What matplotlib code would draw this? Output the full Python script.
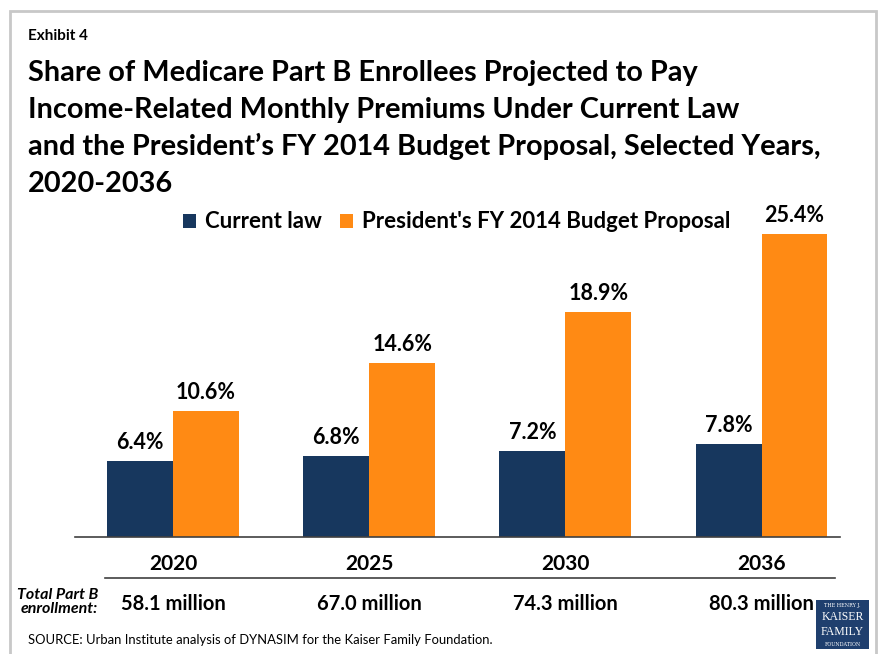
import matplotlib.pyplot as plt
import numpy as np
from matplotlib.patches import Rectangle

# Share of Part B enrollees paying income-related premiums (%)
years = ['2020', '2025', '2030', '2036']
current_law = [6.4, 6.8, 7.2, 7.8]
proposal = [10.6, 14.6, 18.9, 25.4]
enrollment = ['58.1 million', '67.0 million', '74.3 million', '80.3 million']

NAVY = '#17375E'
ORANGE = '#FF8A14'
FONT = 'Lato'

plt.rcParams['font.family'] = [FONT, 'DejaVu Sans']

fig = plt.figure(figsize=(8.8, 6.54), dpi=100)
W, H = 880, 654

def fx(px):
    return px / W

def fy(py):
    return 1 - py / H

# grey frame round the exhibit
fig.patches.append(Rectangle((fx(10), fy(700)), fx(866), 689 / H, transform=fig.transFigure,
                             fill=False, edgecolor='#c8c8c8', linewidth=2))

fig.text(fx(28), fy(36), 'Exhibit 4', fontsize=11, fontweight='bold', va='center')
title_lines = ['Share of Medicare Part B Enrollees Projected to Pay',
               'Income-Related Monthly Premiums Under Current Law',
               'and the President\u2019s FY 2014 Budget Proposal, Selected Years,',
               '2020-2036']
# one text per line so the baselines are evenly spaced
for i, line in enumerate(title_lines):
    fig.text(fx(28), fy(81 + 37 * i), line, fontsize=20.8, fontweight='bold', va='baseline')

# bar chart
ax = fig.add_axes([fx(75), fy(537), fx(840 - 75), (537 - 220) / H])
x = np.arange(len(years))
w = 0.336
b1 = ax.bar(x - w / 2, current_law, w, color=NAVY, label='Current law')
b2 = ax.bar(x + w / 2, proposal, w, color=ORANGE, label="President's FY 2014 Budget Proposal")
ax.set_xlim(-0.5, 3.4)
ax.set_ylim(0, 317 / 11.93)

for bars, vals in [(b1, current_law), (b2, proposal)]:
    for r, v in zip(bars, vals):
        ax.annotate(f'{v:.1f}%', (r.get_x() + r.get_width() / 2, v), xytext=(0, 5.5),
                    textcoords='offset points', ha='center', va='bottom',
                    fontsize=15.5, fontweight='bold')

for s in ['top', 'right', 'left']:
    ax.spines[s].set_visible(False)
ax.spines['bottom'].set_color('#404040')
ax.spines['bottom'].set_linewidth(1.2)
ax.set_yticks([])
ax.set_xticks(x)
ax.set_xticklabels(years, fontsize=15, fontweight='bold')
ax.tick_params(axis='x', length=0, pad=12)

ax.legend(loc='upper left', bbox_to_anchor=(0.115, 1.09), ncol=2, frameon=False,
          prop={'weight': 'bold', 'size': 16}, handlelength=0.6, handleheight=0.6,
          handletextpad=0.4, columnspacing=0.8)

# enrollment row under the axis
fig.add_artist(plt.Line2D([fx(105), fx(835)], [fy(578), fy(578)], color='#404040', linewidth=1.2))
fig.text(fx(98), fy(602), 'Total Part B\nenrollment:', fontsize=11.5, fontweight='bold',
         style='italic', ha='right', va='center', linespacing=1.0)
for i, e in enumerate(enrollment):
    cx = ax.transData.transform((x[i], 0))[0] / fig.dpi / fig.get_figwidth()
    fig.text(cx, fy(604), e, fontsize=14.5, fontweight='bold', ha='center', va='center')

fig.text(fx(28), fy(640), 'SOURCE: Urban Institute analysis of DYNASIM for the Kaiser Family Foundation.',
         fontsize=9.4, va='center')

# foundation logo
fig.patches.append(Rectangle((fx(816), fy(649)), fx(53), 49 / H, transform=fig.transFigure,
                             facecolor='#1f3f6e', edgecolor='none'))
fig.text(fx(842.5), fy(606), 'THE HENRY J.', color='white', fontsize=3.5, family='DejaVu Serif',
         ha='center', va='center')
fig.text(fx(842.5), fy(617), 'KAISER', color='white', fontsize=8.5, family='Liberation Serif',
         ha='center', va='center')
fig.text(fx(842.5), fy(632), 'FAMILY', color='white', fontsize=8.5, family='Liberation Serif',
         ha='center', va='center')
fig.text(fx(842.5), fy(644), 'FOUNDATION', color='white', fontsize=3.5, family='DejaVu Serif',
         ha='center', va='center')

fig.savefig('out.png', dpi=100)
